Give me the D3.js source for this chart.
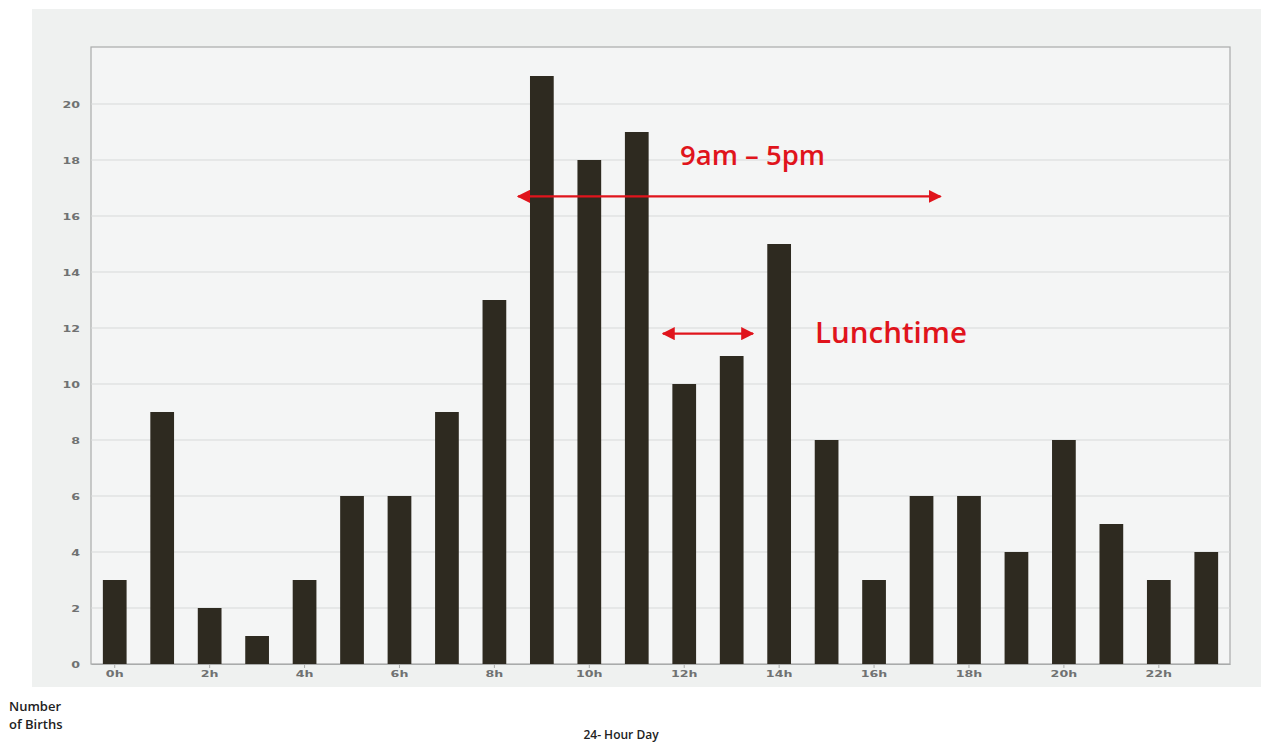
<!DOCTYPE html>
<html>
<head>
<meta charset="utf-8">
<script src="https://cdn.jsdelivr.net/npm/d3@7"></script>
<style>
  body { margin: 0; background: #fff; }
  svg { display: block; }
</style>
</head>
<body>
<svg id="chart" width="1261" height="743"></svg>
<script>
// births per hour of the day
var hours = d3.range(24);
var births = [3, 9, 2, 1, 3, 6, 6, 9, 13, 21, 18, 19, 10, 11, 15, 8, 3, 6, 6, 4, 8, 5, 3, 4];
var yTicks = [0, 2, 4, 6, 8, 10, 12, 14, 16, 18, 20];
var xTickHours = [0, 2, 4, 6, 8, 10, 12, 14, 16, 18, 20, 22];

// annotation ranges, in hour / count units
var workSpan = [8.5, 17.4], workLevel = 16.7;
var lunchSpan = [11.55, 13.45], lunchLevel = 11.8;

var svg = d3.select("#chart");
var cfg = { left: 91, right: 1230, top: 47, bottom: 664 };
var red = "#e0141c";

svg.append("rect")
  .attr("x", 32).attr("y", 9)
  .attr("width", 1229).attr("height", 678)
  .attr("fill", "#eff1f0");

var x = d3.scaleBand()
  .domain(hours)
  .range([cfg.left, cfg.right])
  .paddingInner(0.5)
  .paddingOuter(0.25);

var y = d3.scaleLinear()
  .domain([0, 20])
  .range([cfg.bottom, cfg.bottom - 560]);

// plot frame
svg.append("rect")
  .attr("x", cfg.left).attr("y", cfg.top)
  .attr("width", cfg.right - cfg.left).attr("height", cfg.bottom - cfg.top)
  .attr("fill", "#f4f5f5")
  .attr("stroke", "#a9abab")
  .attr("stroke-width", 1.2);

// grid
svg.append("g")
  .selectAll("line")
  .data(yTicks.filter(function(d) { return d > 0; }))
  .enter().append("line")
  .attr("x1", cfg.left).attr("x2", cfg.right)
  .attr("y1", function(d) { return y(d); })
  .attr("y2", function(d) { return y(d); })
  .attr("stroke", "#d7d9d9")
  .attr("stroke-width", 1);

// y axis
var yAxis = svg.append("g")
  .attr("transform", "translate(" + (cfg.left - 11) + ",0)")
  .call(d3.axisLeft(y).tickValues(yTicks).tickSize(0).tickPadding(0));
yAxis.select(".domain").remove();
yAxis.selectAll("text")
  .attr("fill", "#707272")
  .attr("font-family", "DejaVu Sans")
  .attr("font-size", 11)
  .attr("font-weight", "bold")
  .attr("transform", "scale(1.15,0.8)")
  .attr("x", 0)
  .attr("y", 0)
  .attr("dy", "0.35em");

// bars
svg.append("g")
  .selectAll("rect")
  .data(hours)
  .enter().append("rect")
  .attr("x", function(d) { return x(d); })
  .attr("y", function(d) { return y(births[d]); })
  .attr("width", x.bandwidth())
  .attr("height", function(d) { return y(0) - y(births[d]); })
  .attr("fill", "#2e2a20");

// x axis
var xAxis = svg.append("g")
  .attr("transform", "translate(0," + cfg.bottom + ")")
  .call(d3.axisBottom(x)
    .tickValues(xTickHours)
    .tickFormat(function(d) { return d + "h"; })
    .tickSize(4).tickSizeOuter(0).tickPadding(5));
xAxis.select(".domain").attr("stroke", "#a9abab").attr("stroke-width", 1.2);
xAxis.selectAll(".tick line").attr("stroke", "#a9abab");
xAxis.selectAll("text")
  .attr("fill", "#707272")
  .attr("font-family", "DejaVu Sans")
  .attr("font-size", 11)
  .attr("font-weight", "bold")
  .attr("transform", "scale(1.15,0.8)")
  .attr("x", 0)
  .attr("y", 13 / 0.8)
  .attr("dy", 0);

// annotations
var xh = d3.scaleLinear()
  .domain([0, 23])
  .range([x(0) + x.bandwidth() / 2, x(23) + x.bandwidth() / 2]);

var defs = svg.append("defs");
defs.append("marker")
  .attr("id", "head")
  .attr("viewBox", "0 0 10 10")
  .attr("refX", 9).attr("refY", 5)
  .attr("markerWidth", 5.5).attr("markerHeight", 5.5)
  .attr("markerUnits", "strokeWidth")
  .attr("orient", "auto-start-reverse")
  .append("path")
  .attr("d", "M0,0 L10,5 L0,10 z")
  .attr("fill", red);

function arrow(span, level) {
  svg.append("line")
    .attr("x1", xh(span[0])).attr("x2", xh(span[1]))
    .attr("y1", y(level)).attr("y2", y(level))
    .attr("stroke", red)
    .attr("stroke-width", 2.4)
    .attr("marker-start", "url(#head)")
    .attr("marker-end", "url(#head)");
}
arrow(workSpan, workLevel);
arrow(lunchSpan, lunchLevel);

svg.append("text")
  .attr("x", 680).attr("y", 165)
  .attr("fill", red)
  .attr("font-family", "Open Sans")
  .attr("font-weight", 600)
  .attr("font-size", 27.5)
  .text("9am \u2013 5pm");

svg.append("text")
  .attr("x", 815).attr("y", 343)
  .attr("fill", red)
  .attr("font-family", "Open Sans")
  .attr("font-weight", 600)
  .attr("font-size", 29.5)
  .text("Lunchtime");

// axis titles
var label = svg.append("g")
  .attr("font-family", "Open Sans")
  .attr("font-weight", 600)
  .attr("font-size", 13)
  .attr("fill", "#222");
label.append("text").attr("x", 9).attr("y", 711).text("Number");
label.append("text").attr("x", 9).attr("y", 729).text("of Births");
label.append("text").attr("x", 621).attr("y", 739)
  .attr("text-anchor", "middle").attr("font-size", 12)
  .text("24- Hour Day");
</script>
</body>
</html>
